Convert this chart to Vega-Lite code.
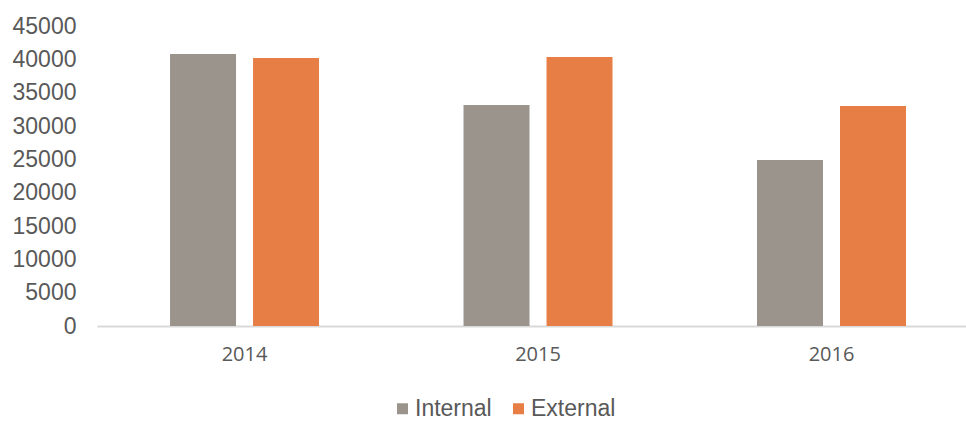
{
  "$schema": "https://vega.github.io/schema/vega-lite/v6.json",
  "width": 869,
  "height": 300,
  "autosize": {"type": "none"},
  "padding": {"left": 97, "top": 26, "right": 0, "bottom": 97},
  "background": "white",
  "config": {"view": {"stroke": null}},
  "data": {
    "values": [
      {"year": "2014", "type": "Internal", "value": 40800},
      {"year": "2014", "type": "External", "value": 40200},
      {"year": "2015", "type": "Internal", "value": 33150},
      {"year": "2015", "type": "External", "value": 40350},
      {"year": "2016", "type": "Internal", "value": 24900},
      {"year": "2016", "type": "External", "value": 33000}
    ]
  },
  "mark": {"type": "bar"},
  "encoding": {
    "x": {
      "field": "year",
      "type": "nominal",
      "scale": {"paddingInner": 0.4923, "paddingOuter": 0.2266, "align": 0.549},
      "axis": {
        "title": null,
        "labelAngle": 0,
        "labelFont": "Open Sans",
        "labelFontSize": 20,
        "labelColor": "#595959",
        "labelPadding": 18,
        "ticks": false,
        "domainColor": "#D9D9D9",
        "domainWidth": 2,
        "grid": false
      }
    },
    "xOffset": {
      "field": "type",
      "type": "nominal",
      "sort": ["Internal", "External"],
      "scale": {"paddingInner": 0.205, "paddingOuter": 0}
    },
    "y": {
      "field": "value",
      "type": "quantitative",
      "scale": {"domain": [0, 45000], "nice": false},
      "axis": {
        "title": null,
        "values": [0, 5000, 10000, 15000, 20000, 25000, 30000, 35000, 40000, 45000],
        "format": "d",
        "labelFont": "Liberation Sans",
        "labelFontSize": 23,
        "labelColor": "#595959",
        "labelPadding": 21,
        "ticks": false,
        "domain": false,
        "grid": false
      }
    },
    "color": {
      "field": "type",
      "type": "nominal",
      "sort": ["Internal", "External"],
      "scale": {"domain": ["Internal", "External"], "range": ["#9B948D", "#E67E45"]},
      "legend": {
        "title": null,
        "orient": "none",
        "direction": "horizontal",
        "legendX": 294,
        "legendY": 371,
        "symbolType": "square",
        "symbolSize": 121,
        "symbolStrokeWidth": 0,
        "labelFont": "Liberation Sans",
        "labelFontSize": 23,
        "labelColor": "#595959",
        "labelOffset": 1,
        "columnPadding": 15
      }
    }
  }
}
